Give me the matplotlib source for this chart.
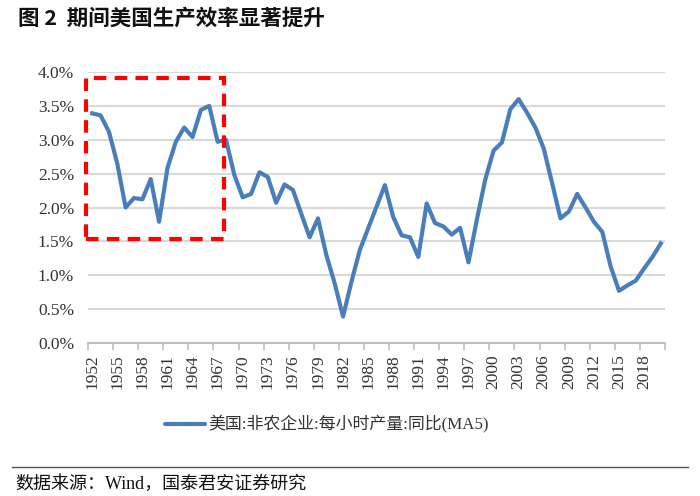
import matplotlib
matplotlib.use("Agg")
import matplotlib.pyplot as plt
from matplotlib.patches import Rectangle
from matplotlib.lines import Line2D

years = list(range(1952, 2021))
values = [3.39, 3.36, 3.12, 2.65, 2.00, 2.14, 2.12, 2.42, 1.79, 2.58,
          2.97, 3.18, 3.04, 3.44, 3.50, 2.97, 3.00, 2.48, 2.15, 2.20,
          2.52, 2.45, 2.07, 2.34, 2.26, 1.91, 1.56, 1.84, 1.30, 0.88,
          0.39, 0.90, 1.37, 1.69, 2.01, 2.33, 1.86, 1.59, 1.56, 1.27,
          2.06, 1.77, 1.72, 1.60, 1.70, 1.19, 1.82, 2.41, 2.84, 2.96,
          3.45, 3.60, 3.40, 3.18, 2.87, 2.36, 1.84, 1.94, 2.20, 2.00,
          1.79, 1.64, 1.13, 0.77, 0.85, 0.92, 1.10, 1.27, 1.47]
yticks = [0.0, 0.5, 1.0, 1.5, 2.0, 2.5, 3.0, 3.5, 4.0]
ytick_labels = [f"{v:.1f}%" for v in yticks]
xtick_years = years[::3]

title = "图 2  期间美国生产效率显著提升"
legend_label = "美国:非农企业:每小时产量:同比(MA5)"
source = "数据来源：Wind，国泰君安证券研究"

serif = ["Liberation Serif", "Noto Sans CJK SC", "DejaVu Sans"]
cjk = ["Noto Sans CJK SC", "DejaVu Sans"]

fig = plt.figure(figsize=(7.0, 4.96), dpi=100)
ax = fig.add_axes([88 / 700, 1 - 343 / 496, (665 - 88) / 700, (343 - 72) / 496])

idx = list(range(len(years)))
ax.plot(idx, values, color="#4a7ebb", lw=3.0, solid_joinstyle="round", zorder=3)

ax.set_ylim(0, 4.0)
ax.set_xlim(-0.5, len(years) - 0.5)
ax.set_yticks(yticks)
ax.set_yticklabels(ytick_labels, fontfamily=serif, fontsize=12.5, color="#333333")
ax.yaxis.grid(True, color="#d9d9d9", lw=1.5)
ax.set_axisbelow(True)
ax.tick_params(axis="y", length=0, pad=10)

xt = [years.index(y) for y in xtick_years]
ax.set_xticks(xt)
ax.set_xticklabels([str(y) for y in xtick_years], rotation=90, fontfamily=serif,
                   fontsize=12.5, color="#333333")
ax.tick_params(axis="x", length=0, pad=8)
ax.set_xticks([i - 0.5 for i in range(0, len(years) + 1, 3)], minor=True)
ax.tick_params(axis="x", which="minor", length=5, width=1.2, color="#bfbfbf", direction="out")

for s in ["top", "right", "left"]:
    ax.spines[s].set_visible(False)
ax.spines["bottom"].set_color("#bfbfbf")
ax.spines["bottom"].set_linewidth(1.5)

# red dashed highlight box
rect = Rectangle((-0.69, 1.53), 16.46, 2.377, fill=False, edgecolor="#ff0000",
                 lw=3, linestyle=(0, (3, 2)), zorder=4, clip_on=False)
ax.add_patch(rect)

# legend
fig.add_artist(Line2D([165 / 700, 205 / 700], [1 - 424 / 496, 1 - 424 / 496],
                      color="#4a7ebb", lw=3.0, solid_capstyle="round"))
fig.text(208 / 700, 1 - 424 / 496, legend_label, fontfamily=serif, fontsize=12.2,
         color="#333333", va="center", ha="left")

# title
fig.text(18 / 700, 1 - 18 / 496, title, fontfamily=cjk, fontsize=15.5, fontweight="bold",
         color="#111111", va="center", ha="left")

# separator and source
fig.add_artist(Line2D([12 / 700, 688 / 700], [1 - 467 / 496, 1 - 467 / 496],
                      color="#555555", lw=1.0))
fig.text(15 / 700, 1 - 484 / 496, source, fontfamily=serif, fontsize=13,
         color="#111111", va="center", ha="left")

fig.savefig("out.png", dpi=100)
